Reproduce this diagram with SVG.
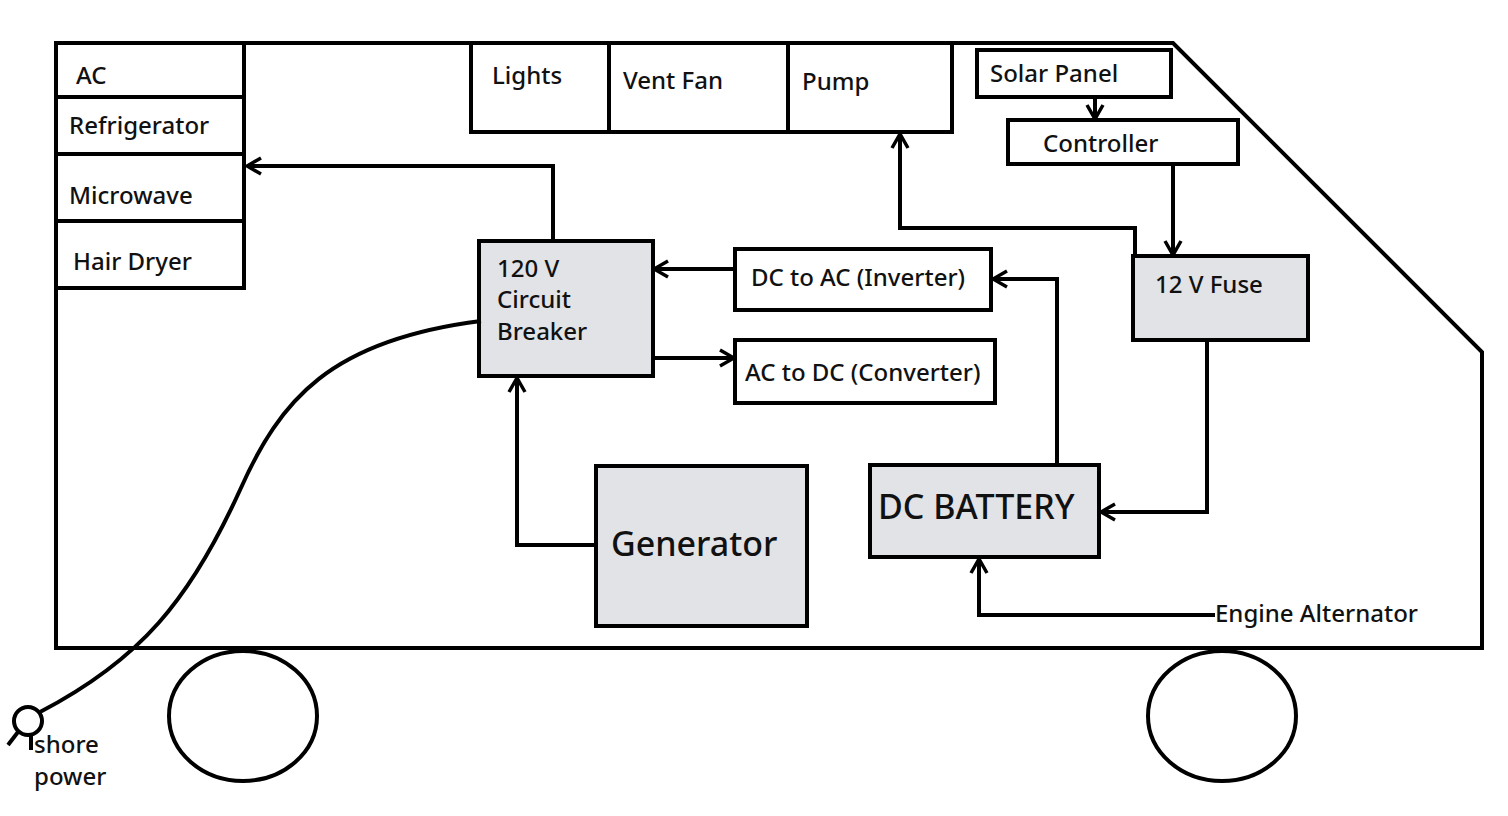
<svg xmlns="http://www.w3.org/2000/svg" width="1508" height="816" viewBox="0 0 1508 816">
<style>
.b{fill:#fff;stroke:#000;stroke-width:4}
.g{fill:#e1e3e6;stroke:#000;stroke-width:4}
.c{fill:none;stroke:#000;stroke-width:4}
text{font-family:"Noto Sans","DejaVu Sans",sans-serif;font-weight:500;font-size:24px;fill:#111}
</style>
<defs>
<marker id="a" viewBox="0 0 20 20" refX="18" refY="10" markerWidth="20" markerHeight="20" markerUnits="userSpaceOnUse" orient="auto">
<polyline points="4,2 18,10 4,18" fill="none" stroke="#000" stroke-width="3.5"/>
</marker>
</defs>
<rect width="1508" height="816" fill="#fff"/>
<g id="van">
<polygon class="c" points="56,43 1173,43 1482,352 1482,648 56,648"/>
<ellipse class="c" cx="243" cy="716" rx="74" ry="65"/>
<ellipse class="c" cx="1222" cy="716" rx="74" ry="65"/>
</g>
<g id="ac"><rect class="b" x="56" y="43" width="188" height="54"/><text x="76" y="84">AC</text></g>
<g id="fridge"><rect class="b" x="56" y="97" width="188" height="57"/><text x="69" y="134">Refrigerator</text></g>
<g id="micro"><rect class="b" x="56" y="154" width="188" height="67"/><text x="69" y="204">Microwave</text></g>
<g id="hair"><rect class="b" x="56" y="221" width="188" height="67"/><text x="73" y="270">Hair Dryer</text></g>
<g id="lights"><rect class="b" x="471" y="43" width="138" height="89"/><text x="492" y="84">Lights</text></g>
<g id="vent"><rect class="b" x="609" y="43" width="179" height="89"/><text x="623" y="89">Vent Fan</text></g>
<g id="pump"><rect class="b" x="788" y="43" width="164" height="89"/><text x="802" y="90">Pump</text></g>
<g id="solar"><rect class="b" x="977" y="50" width="194" height="47"/><text x="990" y="82">Solar Panel</text></g>
<g id="ctrl"><rect class="b" x="1008" y="120" width="230" height="44"/><text x="1043" y="152">Controller</text></g>
<g id="fuse"><rect class="g" x="1133" y="256" width="175" height="84"/><text x="1155" y="293">12 V Fuse</text></g>
<g id="cb"><rect class="g" x="479" y="241" width="174" height="135"/><text x="497" y="277">120 V</text><text x="497" y="308">Circuit</text><text x="497" y="340">Breaker</text></g>
<g id="inv"><rect class="b" x="735" y="249" width="256" height="61"/><text x="751" y="286">DC to AC  (Inverter)</text></g>
<g id="conv"><rect class="b" x="735" y="340" width="260" height="63"/><text x="745" y="381">AC to DC (Converter)</text></g>
<g id="gen"><rect class="g" x="596" y="466" width="211" height="160"/><text x="611" y="556" style="font-size:34px">Generator</text></g>
<g id="bat"><rect class="g" x="870" y="465" width="229" height="92"/><text x="878" y="519" style="font-size:34px">DC BATTERY</text></g>
<text x="1215" y="622">Engine Alternator</text>
<text x="34" y="753">shore</text>
<text x="34" y="785">power</text>
<g id="connectors">
<polyline class="c" points="553,241 553,166 247,166" marker-end="url(#a)"/>
<polyline class="c" points="735,269 654,269" marker-end="url(#a)"/>
<polyline class="c" points="653,358 734,358" marker-end="url(#a)"/>
<polyline class="c" points="596,545 517,545 517,378" marker-end="url(#a)"/>
<path class="c" d="M481,321 C330,340 280,400 240,490 C190,600 140,660 40,712"/>
<circle class="c" cx="28" cy="721" r="14"/>
<line class="c" x1="18" y1="732" x2="8" y2="745"/>
<line class="c" x1="31" y1="736" x2="31" y2="750"/>
<polyline class="c" points="1135,256 1135,228 900,228 900,134" marker-end="url(#a)"/>
<polyline class="c" points="1095,97 1095,119" marker-end="url(#a)"/>
<polyline class="c" points="1173,164 1173,255" marker-end="url(#a)"/>
<polyline class="c" points="1207,340 1207,512 1101,512" marker-end="url(#a)"/>
<polyline class="c" points="1057,465 1057,279 993,279" marker-end="url(#a)"/>
<polyline class="c" points="1215,615 979,615 979,559" marker-end="url(#a)"/>
</g>
</svg>
